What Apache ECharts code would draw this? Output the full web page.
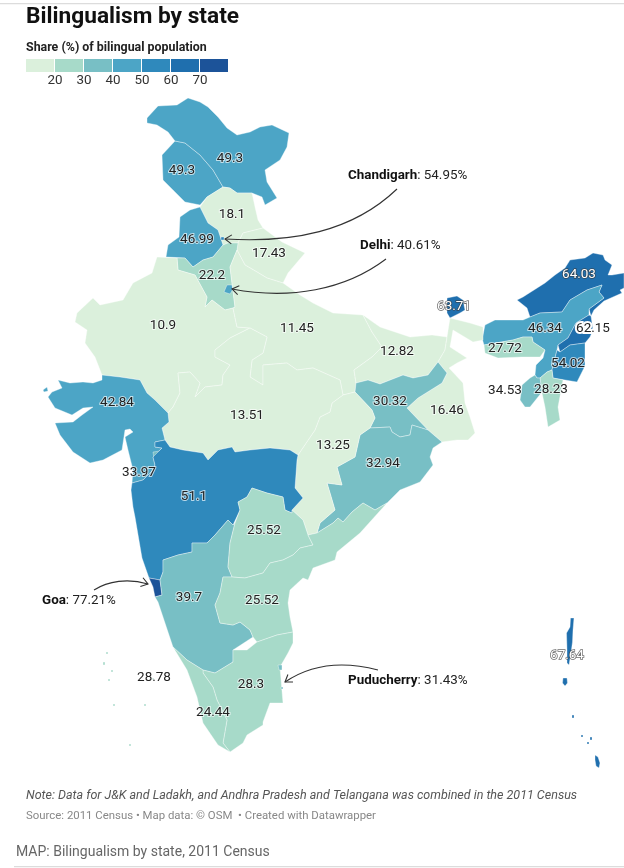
<!DOCTYPE html>
<html><head><meta charset="utf-8">
<style>html,body{margin:0;padding:0;background:#fff}#c{width:624px;height:868px}</style>
<script src="https://cdn.jsdelivr.net/npm/echarts@6/dist/echarts.min.js"></script>
</head><body><div id="c"></div>
<script>
// ---- data ----
const regionNames = ['Jammu and Kashmir','Ladakh','Himachal Pradesh','Punjab','Chandigarh','Uttarakhand','Haryana','Delhi','Rajasthan','Uttar Pradesh','Bihar','Sikkim','Arunachal Pradesh','Assam','Nagaland','Manipur','Mizoram','Tripura','Meghalaya','West Bengal','Jharkhand','Odisha','Chhattisgarh','Madhya Pradesh','Gujarat','Dadra and Nagar Haveli','Maharashtra','Goa','Karnataka','Telangana','Andhra Pradesh','Tamil Nadu','Puducherry','Kerala','Lakshadweep','Andaman and Nicobar'];
const regionValues = [49.3,49.3,18.1,46.99,54.95,17.43,22.2,40.61,10.9,11.45,12.82,63.71,64.03,46.34,62.15,54.02,28.23,34.53,27.72,16.46,30.32,32.94,13.25,13.51,42.84,33.97,51.1,77.21,39.7,25.52,25.52,28.3,31.43,24.44,28.78,67.64];
const binThresholds = [20,30,40,50,60,70];
const binColors = ['#dbf0dc','#a7dac9','#78bfc5','#4ca5c6','#2f89bc','#1f6fae','#1c5399'];
const calloutNames = ['Chandigarh','Delhi','Goa','Puducherry'];
const calloutValues = ['54.95%','40.61%','77.21%','31.43%'];
const lightLabelRegions = ['Sikkim','Arunachal Pradesh','Andaman and Nicobar'];

// Hand-traced map geometry: outlines (rings) and label anchors, one entry per region
const outlines = {
'Jammu and Kashmir':[[[175,141],[185,143],[200,155],[213,170],[223,187],[207,197],[200,205],[185,202],[173,190],[163,180],[162,155]]],
'Ladakh':[[[147,118],[158,106],[177,105],[188,98],[200,102],[208,107],[218,117],[227,128],[237,135],[250,132],[260,127],[272,125],[289,133],[287,147],[280,160],[265,170],[267,182],[272,190],[277,198],[265,205],[262,197],[252,193],[237,193],[230,188],[223,187],[213,170],[200,155],[185,143],[175,141],[168,132],[157,125],[147,123]]],
'Himachal Pradesh':[[[207,197],[223,187],[230,188],[237,193],[252,193],[255,207],[258,220],[263,228],[243,233],[238,243],[228,243],[223,245],[218,230],[208,223],[200,207]]],
'Punjab':[[[200,207],[208,223],[218,230],[223,245],[213,257],[203,260],[193,267],[185,258],[166,257],[168,245],[179,237],[180,217],[190,210]]],
'Chandigarh':[[[221,237],[224,237],[224,240],[221,240]]],
'Uttarakhand':[[[238,243],[243,233],[263,228],[282,242],[305,253],[288,273],[283,283],[267,278],[257,272],[245,265],[237,250]]],
'Haryana':[[[228,243],[238,243],[237,250],[230,267],[235,307],[233,308],[225,310],[212,300],[205,307],[207,297],[195,275],[178,270],[177,258],[185,258],[193,267],[203,260],[213,257],[223,245]]],
'Delhi':[[[227,285],[232,285],[233,289],[230,294],[224,292]]],
'Rajasthan':[[[157,257],[177,258],[178,270],[195,275],[207,297],[205,307],[212,300],[225,310],[233,308],[237,327],[250,328],[230,338],[215,350],[215,357],[230,365],[223,375],[222,385],[205,387],[195,397],[200,383],[190,372],[178,373],[180,393],[173,407],[168,413],[155,400],[147,393],[140,380],[120,377],[102,375],[95,357],[85,343],[87,330],[75,322],[77,313],[93,298],[100,305],[123,300],[133,283],[152,273]]],
'Uttar Pradesh':[[[237,250],[245,265],[257,272],[267,278],[283,283],[300,295],[313,303],[333,313],[363,315],[372,332],[382,347],[372,357],[354,370],[356,383],[355,392],[343,395],[340,380],[313,368],[297,370],[287,363],[263,365],[263,385],[250,377],[252,360],[263,353],[267,337],[250,328],[237,327],[233,308],[235,307],[230,267]]],
'Bihar':[[[363,315],[380,327],[410,337],[432,335],[447,337],[445,350],[438,362],[428,375],[413,378],[403,375],[380,384],[368,380],[356,383],[354,370],[372,357],[382,347],[372,332]]],
'Sikkim':[[[447,298],[457,296],[463,300],[465,310],[460,313],[450,318],[447,313]]],
'Arunachal Pradesh':[[[517,300],[523,297],[545,283],[555,275],[565,268],[570,260],[585,258],[593,253],[603,255],[605,260],[612,265],[608,275],[612,275],[624,273],[624,288],[620,290],[622,293],[604,301],[594,310],[591,316],[589,309],[604,298],[599,292],[602,285],[587,290],[570,300],[562,312],[540,313],[530,317],[527,308]]],
'Assam':[[[482,338],[483,335],[485,325],[495,320],[523,320],[530,317],[540,313],[562,312],[570,300],[587,290],[602,285],[599,292],[604,298],[589,309],[589,315],[576,323],[568,338],[558,345],[557,350],[552,370],[547,372],[540,378],[537,378],[535,375],[536,365],[543,358],[545,350],[533,342],[532,337],[523,337],[513,340],[484,345]]],
'Nagaland':[[[589,315],[591,316],[593,330],[590,337],[585,343],[570,345],[560,352],[558,345],[568,338],[576,323]]],
'Manipur':[[[560,352],[570,345],[585,343],[585,353],[585,366],[577,382],[553,378],[552,370],[557,350]]],
'Mizoram':[[[547,372],[552,370],[553,378],[563,380],[558,407],[560,420],[548,427],[545,407],[542,393],[540,378]]],
'Tripura':[[[535,375],[537,378],[540,378],[542,392],[530,407],[525,407],[520,400],[522,385],[530,378]]],
'Meghalaya':[[[484,345],[513,340],[523,337],[532,337],[533,342],[545,350],[540,357],[522,357],[498,358],[485,353]]],
'West Bengal':[[[407,408],[418,398],[442,383],[447,373],[438,362],[445,350],[447,337],[450,318],[470,323],[483,327],[483,340],[473,342],[453,330],[450,347],[467,358],[457,363],[449,368],[463,383],[465,403],[470,417],[475,433],[468,440],[457,440],[442,442],[428,430]]],
'Jharkhand':[[[356,383],[368,380],[380,384],[403,375],[413,378],[428,375],[438,362],[447,373],[442,383],[418,398],[407,408],[428,430],[412,425],[410,435],[400,437],[392,432],[390,427],[370,428],[375,418],[372,410],[355,392]]],
'Odisha':[[[370,428],[390,427],[392,432],[400,437],[410,435],[412,425],[428,430],[442,442],[433,448],[430,457],[433,465],[420,482],[400,490],[387,503],[375,510],[363,503],[352,512],[343,522],[338,518],[333,523],[317,533],[320,523],[335,510],[330,493],[327,483],[342,485],[337,467],[355,457],[360,435]]],
'Chhattisgarh':[[[343,395],[355,392],[372,410],[375,418],[370,428],[360,435],[355,457],[337,467],[342,485],[327,483],[330,493],[335,510],[320,523],[317,533],[308,535],[303,520],[292,510],[303,498],[295,488],[297,460],[298,455],[315,430],[320,417],[330,412],[332,403]]],
'Madhya Pradesh':[[[250,328],[267,337],[263,353],[252,360],[250,377],[263,385],[263,365],[287,363],[297,370],[313,368],[340,380],[343,395],[332,403],[330,412],[320,417],[315,430],[298,455],[290,450],[270,448],[250,450],[235,452],[232,447],[218,450],[208,460],[203,453],[183,450],[170,447],[165,440],[162,428],[169,422],[168,413],[173,407],[180,393],[178,373],[190,372],[200,383],[195,397],[205,387],[222,385],[223,375],[230,365],[215,357],[215,350],[230,338]]],
'Gujarat':[[[102,375],[120,377],[140,380],[147,393],[155,400],[168,413],[169,422],[162,428],[165,440],[155,442],[155,447],[162,448],[153,457],[155,465],[153,470],[143,480],[132,483],[133,470],[128,450],[125,437],[133,432],[130,429],[125,430],[122,450],[103,460],[90,463],[73,452],[60,435],[55,423],[73,422],[82,415],[93,407],[83,408],[72,415],[55,408],[48,397],[52,392],[62,388],[58,380],[70,383],[83,382],[93,383],[102,380]],[[43,390],[47,387],[48,391],[44,392]]],
'Dadra and Nagar Haveli':[[[153,452],[160,451],[159,457],[154,459]]],
'Maharashtra':[[[132,483],[143,480],[153,470],[155,465],[153,457],[162,448],[155,447],[155,442],[165,440],[170,447],[183,450],[203,453],[208,460],[218,450],[232,447],[235,452],[250,450],[270,448],[290,450],[298,455],[297,460],[295,488],[303,498],[292,510],[292,513],[285,510],[283,497],[267,493],[252,488],[247,497],[238,502],[240,510],[233,525],[228,520],[215,535],[207,543],[192,543],[192,552],[178,555],[163,560],[163,572],[160,580],[149,578],[142,558],[135,517],[133,507],[131,490]]],
'Goa':[[[149,578],[160,580],[162,595],[155,597],[153,587]]],
'Karnataka':[[[163,560],[178,555],[192,552],[192,543],[207,543],[215,535],[228,520],[233,525],[235,523],[230,543],[228,567],[232,577],[223,577],[220,593],[215,605],[220,623],[233,625],[240,622],[250,630],[253,637],[233,650],[233,662],[215,673],[203,670],[187,660],[173,647],[163,617],[158,602],[155,597],[162,595],[160,580],[163,572]]],
'Telangana':[[[252,488],[267,493],[283,497],[285,510],[292,513],[292,510],[303,520],[308,535],[313,545],[300,548],[293,555],[283,560],[270,563],[263,573],[245,578],[232,577],[228,567],[230,543],[235,523],[240,510],[238,502],[247,497]]],
'Andhra Pradesh':[[[308,535],[317,533],[333,523],[338,518],[343,522],[352,512],[363,503],[375,510],[387,503],[360,533],[337,552],[335,560],[313,568],[308,580],[303,578],[290,590],[288,603],[290,617],[293,632],[277,635],[257,642],[253,637],[250,630],[240,622],[233,625],[220,623],[215,605],[220,593],[223,577],[232,577],[245,578],[263,573],[270,563],[283,560],[293,555],[300,548],[313,545]]],
'Tamil Nadu':[[[257,642],[277,635],[293,632],[293,643],[288,653],[280,667],[283,703],[270,703],[263,722],[263,725],[247,735],[243,743],[230,752],[223,743],[227,720],[217,700],[213,687],[203,673],[203,670],[215,673],[233,662],[233,650],[247,650]]],
'Puducherry':[[[278,665],[282,665],[282,670],[279,670]],[[281,687],[283,687],[283,689],[281,689]]],
'Kerala':[[[173,647],[187,660],[203,670],[203,673],[213,687],[217,700],[227,720],[223,743],[230,752],[218,745],[203,723],[197,697],[187,670]]],
'Lakshadweep':[[[103,662],[105,662],[105,665],[103,665]],[[106,652],[108,652],[108,654],[106,654]],[[111,670],[113,670],[113,672],[111,672]],[[108,679],[110,679],[110,681],[108,681]],[[113,704],[115,704],[115,706],[113,706]],[[144,704],[146,704],[146,706],[144,706]],[[129,744],[131,744],[131,746],[129,746]],[[152,678],[154,678],[154,680],[152,680]]],
'Andaman and Nicobar':[[[570.5,618],[574,618],[573,630],[572.5,642],[571,653],[569,665],[567,663],[567,650],[566.5,633],[570,627]],[[563,678],[567,678],[567.5,683],[565,686],[562.5,683]],[[572,715],[574,715],[574,718],[572,718]],[[581,735],[583,735],[583,737],[581,737]],[[587,742],[589,742],[589,744],[587,744]],[[590,737],[592,737],[592,740],[590,740]],[[595,755],[598,757],[600,763],[599,768],[596,766],[595,760]]]
};
const labelAnchors = {
'Jammu and Kashmir':[182,171],'Ladakh':[230,159],'Himachal Pradesh':[232,215],'Punjab':[197,240],'Uttarakhand':[269,254],'Haryana':[212,276],'Rajasthan':[163,326],'Uttar Pradesh':[297,329],'Bihar':[397,352],'Sikkim':[454,307],'Arunachal Pradesh':[579,275],'Assam':[545,329],'Nagaland':[593,329],'Manipur':[568,364],'Mizoram':[551,390],'Tripura':[505,391],'Meghalaya':[505,349],'West Bengal':[447,411],'Jharkhand':[390,402],'Odisha':[383,464],'Chhattisgarh':[333,446],'Madhya Pradesh':[247,416],'Gujarat':[117,403],'Dadra and Nagar Haveli':[139,473],'Maharashtra':[194,497],'Karnataka':[189,598],'Telangana':[264,531],'Andhra Pradesh':[262,601],'Tamil Nadu':[251,685],'Kerala':[213,713],'Lakshadweep':[154,678],'Andaman and Nicobar':[567,656]
};

// ---- map registration ----
const geoJson = {type:'FeatureCollection',features:regionNames.map(name=>{
  const p={name};
  if(labelAnchors[name]) p.cp=[labelAnchors[name][0],-labelAnchors[name][1]];
  return {type:'Feature',properties:p,geometry:{type:'MultiPolygon',
    coordinates:outlines[name].map(r=>[r.map(q=>[q[0],-q[1]])])}};
})};
echarts.registerMap('india',geoJson);

const FONT='Roboto';
const pieces=binColors.map((color,i)=>{
  const o={color};
  if(i>0)o.gte=binThresholds[i-1];
  if(i<binThresholds.length)o.lt=binThresholds[i];
  return o;
});
const graphics=[];
const txt=(x,y,text,style)=>graphics.push({type:'text',x,y,z:100,silent:true,style:Object.assign({text,fontFamily:FONT,fill:'#222',verticalAlign:'middle'},style)});

// rules
graphics.push({type:'rect',z:100,shape:{x:0,y:3,width:624,height:1.2},style:{fill:'#dcdcdc'},silent:true});
graphics.push({type:'rect',z:100,shape:{x:14,y:866,width:610,height:1.2},style:{fill:'#dcdcdc'},silent:true});
// heads
txt(26,17,'Bilingualism by state',{fontSize:22.7,fontWeight:700,fill:'#111'});
txt(26,47.5,'Share (%) of bilingual population',{fontSize:12.4,fontWeight:700,fill:'#222'});
// legend built from the bins
const LX=26,LW=29,LY=59,LH=13;
binColors.forEach((c,i)=>{
  graphics.push({type:'rect',z:100,silent:true,shape:{x:LX+i*LW,y:LY,width:LW-1,height:LH},style:{fill:c}});
});
binThresholds.forEach((t,i)=>{
  txt(LX+(i+1)*LW,81,String(t),{fontSize:13.4,fill:'#333',align:'center'});
});
// callouts
const calloutPos=[[348,176],[360,246],[42,601],[348,681]];
calloutNames.forEach((n,i)=>{
  graphics.push({type:'text',z:100,x:calloutPos[i][0],y:calloutPos[i][1],silent:true,style:{
    text:'{b|'+n+'}: '+calloutValues[i],fontFamily:FONT,fontSize:13.4,fill:'#222',verticalAlign:'middle',
    rich:{b:{fontFamily:FONT,fontSize:13.4,fontWeight:700,fill:'#111'}}
  }});
});
// callout arrows
function arrow(x1,y1,c1x,c1y,c2x,c2y,x2,y2){
  graphics.push({type:'bezierCurve',z:100,silent:true,shape:{x1,y1,cpx1:c1x,cpy1:c1y,cpx2:c2x,cpy2:c2y,x2,y2},style:{stroke:'#333',lineWidth:1.1,fill:'none'}});
  const a=Math.atan2(c2y-y2,c2x-x2),L=8,s=0.6;
  graphics.push({type:'polyline',z:100,silent:true,shape:{points:[
    [x2+L*Math.cos(a+s),y2+L*Math.sin(a+s)],[x2,y2],[x2+L*Math.cos(a-s),y2+L*Math.sin(a-s)]]},style:{stroke:'#333',lineWidth:1.1,fill:'none'}});
}
arrow(397,189,352,232,292,243,225,239);
arrow(386,259,345,290,290,300,232,289);
arrow(94,590,108,581,128,578,148,584);
arrow(378,670,340,660,310,665,285,682);
// notes
txt(26,796,'Note: Data for J&K and Ladakh, and Andhra Pradesh and Telangana was combined in the 2011 Census',{fontSize:12.5,fontStyle:'italic',fill:'#555'});
txt(26,816,'Source: 2011 Census • Map data: © OSM  • Created with Datawrapper',{fontSize:11.4,fill:'#888'});
txt(16,852,'MAP: Bilingualism by state, 2011 Census',{fontSize:14,fill:'#666'});

const seriesData=regionNames.map((name,i)=>{
  const light=lightLabelRegions.includes(name);
  const hasLabel=!!labelAnchors[name];
  const heavyHalo=name==='Nagaland';
  return {name,value:regionValues[i],label:{show:hasLabel,
    color:light?'#fff':'#222',
    textBorderColor:light?'rgba(60,60,60,0.75)':(heavyHalo?'#fff':'rgba(255,255,255,0.65)'),
    textBorderWidth:light?1.5:(heavyHalo?4:2)}};
});

const chart=echarts.init(document.getElementById('c'),null,{renderer:'canvas'});
chart.setOption({
  animation:false,
  backgroundColor:'#fff',
  visualMap:{type:'piecewise',show:false,pieces,seriesIndex:0,dimension:0},
  series:[{
    type:'map',map:'india',roam:false,silent:true,
    left:0,top:0,width:624,height:868,
    aspectScale:1,
    boundingCoords:[[0,0],[624,-868]],
    itemStyle:{borderColor:'rgba(255,255,255,0.6)',borderWidth:0.6,areaColor:'#dbf0dc'},
    label:{show:true,fontFamily:FONT,fontSize:13.5,formatter:p=>String(p.value)},
    emphasis:{disabled:true},
    data:seriesData
  }],
  graphic:{elements:graphics}
});
</script></body></html>
